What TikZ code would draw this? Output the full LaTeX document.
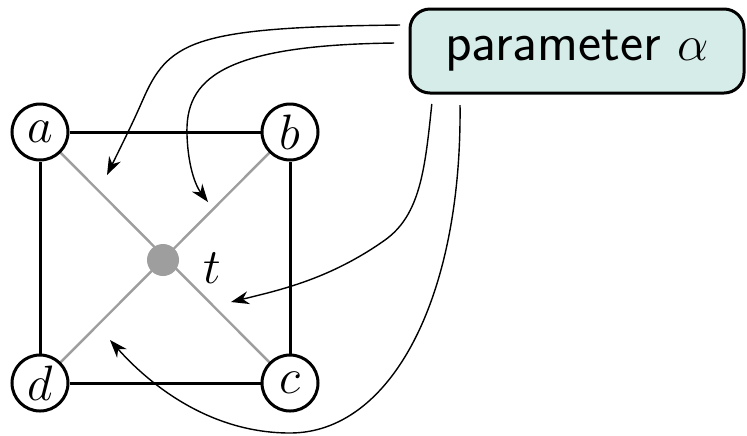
\documentclass[tikz,border=0pt]{standalone}
\usetikzlibrary{arrows.meta}
\definecolor{paramfill}{RGB}{214,236,232}
\begin{document}
\begin{tikzpicture}[x=0.5pt, y=-0.5pt, >={Stealth[length=9pt,width=6.5pt]},
    every node/.style={font=\fontsize{27.5}{33}\selectfont},
    vert/.style={circle, draw, line width=1.5pt, fill=white, minimum size=28pt, inner sep=0pt},
    edge/.style={line width=1.5pt},
    diag/.style={black!38, line width=1.2pt},
    infl/.style={->, line width=0.7pt, shorten <=1pt}]
    \useasboundingbox (0,0) rectangle (747,435);

    % 1. 对角线与中心点
    \coordinate (tc) at (163,260);
    \draw[diag] (40,132) -- (290,383);
    \draw[diag] (290,132) -- (40,383);
    \node[circle, fill=black!38, minimum size=16pt, inner sep=0pt] (t) at (tc) {};
    \node (tlab) at (212,268) {$t$};

    % 2. 四个顶点与边
    \node[vert] (a) at (40,132) {$a$};
    \node[vert] (b) at (290,132) {$b$};
    \node[vert] (c) at (290,383) {$c$};
    \node[vert] (d) at (40,383) {$d$};
    \draw[edge] (a) -- (b) -- (c) -- (d) -- (a);

    % 3. 参数框
    \node[draw, line width=1.5pt, fill=paramfill, rounded corners=10pt,
          minimum width=167pt, minimum height=42pt] (par) at (577,51)
          {\textsf{parameter} $\alpha$};

    % 4. 影响箭头
    \coordinate (s1) at (402,25);  \coordinate (e1) at (107,175);
    \coordinate (s2) at (396,43);  \coordinate (e2) at (208,202);
    \coordinate (s3) at (432,102); \coordinate (e3) at (231,302);
    \coordinate (s4) at (460,103); \coordinate (e4) at (110,340);
    \draw[infl] (s1) .. controls (200,27) and (170,40) .. (145,95)
                     .. controls (133,122) .. (e1);
    \draw[infl] (s2) .. controls (220,45) and (185,80) .. (187,135)
                     .. controls (188,165) and (195,185) .. (e2);
    \draw[infl] (s3) .. controls (425,170) and (420,215) .. (385,240)
                     .. controls (330,279) and (280,290) .. (e3);
    \draw[infl] (s4) .. controls (462,300) and (390,433) .. (290,433)
                     .. controls (210,433) and (150,385) .. (e4);
\end{tikzpicture}
\end{document}
